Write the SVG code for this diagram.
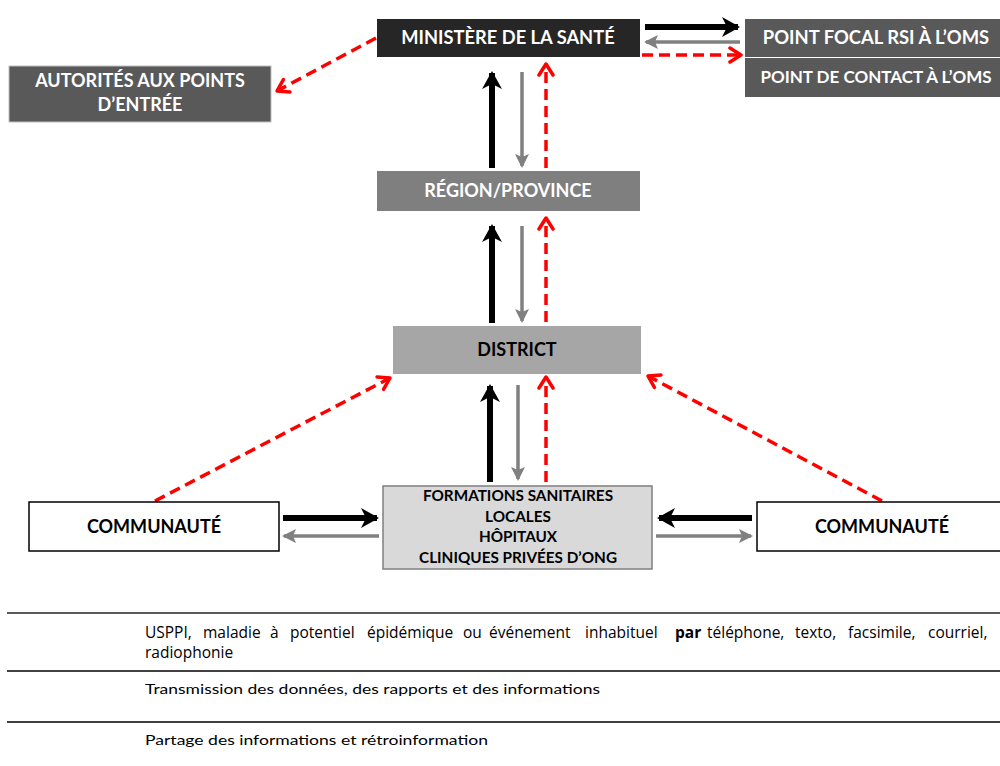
<svg xmlns="http://www.w3.org/2000/svg" width="1000" height="766" viewBox="0 0 1000 766">
  <style>
    .lbl { font-family: Lato, "Liberation Sans", sans-serif; font-weight: 700; text-anchor: middle; }
    .w { fill: #ffffff; }
    .k { fill: #000000; }
    .blk { stroke: #000000; stroke-width: 6; fill: none; }
    .gry { stroke: #808080; stroke-width: 3.5; fill: none; }
    .red { stroke: #ff0000; stroke-width: 3.5; fill: none; stroke-dasharray: 11 6; }
    .leg { font-family: Lato, "Liberation Sans", sans-serif; font-size: 14px; fill: #000000; }
    .leg1 { font-family: "Open Sans", "Liberation Sans", sans-serif; font-size: 15.5px; fill: #000000; }
  </style>
  <defs>
    <marker id="hk" markerUnits="userSpaceOnUse" markerWidth="18" markerHeight="20" viewBox="0 0 18 20" refX="16" refY="10" orient="auto">
      <path d="M0,0 L18,10 L0,20 L5,10 z" fill="#000000"/>
    </marker>
    <marker id="hg" markerUnits="userSpaceOnUse" markerWidth="14" markerHeight="14" viewBox="0 0 14 14" refX="12" refY="7" orient="auto">
      <path d="M0,0 L14,7 L0,14 L3,7 z" fill="#808080"/>
    </marker>
    <marker id="hr" markerUnits="userSpaceOnUse" markerWidth="16" markerHeight="18" viewBox="0 0 16 18" refX="13" refY="9" orient="auto">
      <path d="M2,2 L13,9 L2,16" fill="none" stroke="#ff0000" stroke-width="3.5" stroke-linecap="round" stroke-linejoin="round"/>
    </marker>
  </defs>

  <rect width="1000" height="766" fill="#ffffff"/>

  <!-- connectors -->
  <g id="connectors">
    <!-- ministry <-> WHO focal point -->
    <line class="blk" x1="645" y1="27" x2="738" y2="27" marker-end="url(#hk)"/>
    <line class="gry" x1="740" y1="42" x2="646" y2="42" marker-end="url(#hg)"/>
    <line class="red" x1="642" y1="55" x2="741" y2="55" marker-end="url(#hr)"/>
    <!-- ministry -> points of entry -->
    <line class="red" x1="376" y1="38" x2="277" y2="91" marker-end="url(#hr)"/>
    <!-- region <-> ministry -->
    <line class="blk" x1="492" y1="168" x2="492" y2="73" marker-end="url(#hk)"/>
    <line class="gry" x1="522" y1="72" x2="522" y2="166" marker-end="url(#hg)"/>
    <line class="red" x1="546" y1="168" x2="546" y2="64" marker-end="url(#hr)"/>
    <!-- district <-> region -->
    <line class="blk" x1="492" y1="323" x2="492" y2="226" marker-end="url(#hk)"/>
    <line class="gry" x1="522" y1="226" x2="522" y2="321" marker-end="url(#hg)"/>
    <line class="red" x1="546" y1="322" x2="546" y2="218" marker-end="url(#hr)"/>
    <!-- facilities <-> district -->
    <line class="blk" x1="490" y1="482" x2="490" y2="386" marker-end="url(#hk)"/>
    <line class="gry" x1="518" y1="385" x2="518" y2="479" marker-end="url(#hg)"/>
    <line class="red" x1="546" y1="482" x2="546" y2="377" marker-end="url(#hr)"/>
    <!-- communities -> district -->
    <line class="red" x1="155" y1="501" x2="390" y2="378" marker-end="url(#hr)"/>
    <line class="red" x1="882" y1="501" x2="648" y2="376" marker-end="url(#hr)"/>
    <!-- communities <-> facilities -->
    <line class="blk" x1="283" y1="518" x2="377" y2="518" marker-end="url(#hk)"/>
    <line class="gry" x1="379" y1="536" x2="284" y2="536" marker-end="url(#hg)"/>
    <line class="blk" x1="752" y1="518" x2="659" y2="518" marker-end="url(#hk)"/>
    <line class="gry" x1="656" y1="536" x2="751" y2="536" marker-end="url(#hg)"/>
  </g>

  <g id="ministere">
    <rect x="377" y="19" width="263" height="38" fill="#262626"/>
    <text class="lbl w" x="508" y="44" font-size="18.3">MINISTÈRE DE LA SANTÉ</text>
  </g>

  <g id="autorites">
    <rect x="9" y="66" width="262" height="56" fill="#595959" stroke="#bfbfbf" stroke-width="1"/>
    <text class="lbl w" x="140" y="87" font-size="18">AUTORITÉS AUX POINTS</text>
    <text class="lbl w" x="140" y="111" font-size="18">D’ENTRÉE</text>
  </g>

  <g id="point-focal">
    <rect x="745" y="19" width="255" height="38" fill="#595959"/>
    <text class="lbl w" x="876" y="44" font-size="18.4">POINT FOCAL RSI À L’OMS</text>
  </g>

  <g id="point-contact">
    <rect x="745" y="58" width="255" height="39" fill="#595959"/>
    <text class="lbl w" x="876" y="83" font-size="17">POINT DE CONTACT À L’OMS</text>
  </g>

  <g id="region">
    <rect x="377" y="171" width="263" height="40" fill="#7f7f7f"/>
    <text class="lbl w" x="508" y="197" font-size="18">RÉGION/PROVINCE</text>
  </g>

  <g id="district">
    <rect x="393" y="326" width="248" height="48" fill="#a6a6a6"/>
    <text class="lbl k" x="517" y="356" font-size="18">DISTRICT</text>
  </g>

  <g id="formations">
    <rect x="383" y="486" width="269" height="83" fill="#d9d9d9" stroke="#7f7f7f" stroke-width="1.5"/>
    <text class="lbl k" x="518" y="501" font-size="15.3">FORMATIONS SANITAIRES</text>
    <text class="lbl k" x="518" y="522" font-size="15.3">LOCALES</text>
    <text class="lbl k" x="518" y="542" font-size="15.3">HÔPITAUX</text>
    <text class="lbl k" x="518" y="563" font-size="15.3">CLINIQUES PRIVÉES D’ONG</text>
  </g>

  <g id="communaute-gauche">
    <rect x="29" y="502" width="250" height="49" fill="#ffffff" stroke="#000000" stroke-width="1.5"/>
    <text class="lbl k" x="154" y="533" font-size="18">COMMUNAUTÉ</text>
  </g>

  <g id="communaute-droite">
    <rect x="757" y="502" width="250" height="49" fill="#ffffff" stroke="#000000" stroke-width="1.5"/>
    <text class="lbl k" x="882" y="533" font-size="18">COMMUNAUTÉ</text>
  </g>

  <!-- legend -->
  <g id="legende">
    <line x1="7" y1="613" x2="1000" y2="613" stroke="#595959" stroke-width="2"/>
    <line x1="7" y1="671" x2="1000" y2="671" stroke="#000000" stroke-width="1.5"/>
    <line x1="7" y1="722" x2="1000" y2="722" stroke="#000000" stroke-width="1.5"/>
    <!-- justified first line: one tspan per word -->
    <text class="leg1" y="638"><tspan x="145">USPPI,</tspan><tspan x="203">maladie</tspan><tspan x="270">à</tspan><tspan x="290">potentiel</tspan><tspan x="367">épidémique</tspan><tspan x="463">ou</tspan><tspan x="489">événement</tspan><tspan x="585">inhabituel</tspan><tspan x="675" font-weight="700">par</tspan><tspan x="707">téléphone,</tspan><tspan x="795">texto,</tspan><tspan x="848">facsimile,</tspan><tspan x="928">courriel,</tspan></text>
    <text class="leg1" x="145" y="658">radiophonie</text>
    <text class="leg" x="145" y="694" textLength="455" lengthAdjust="spacingAndGlyphs">Transmission des données, des rapports et des informations</text>
    <text class="leg" x="145" y="745" textLength="343" lengthAdjust="spacingAndGlyphs">Partage des informations et rétroinformation</text>
  </g>
</svg>
